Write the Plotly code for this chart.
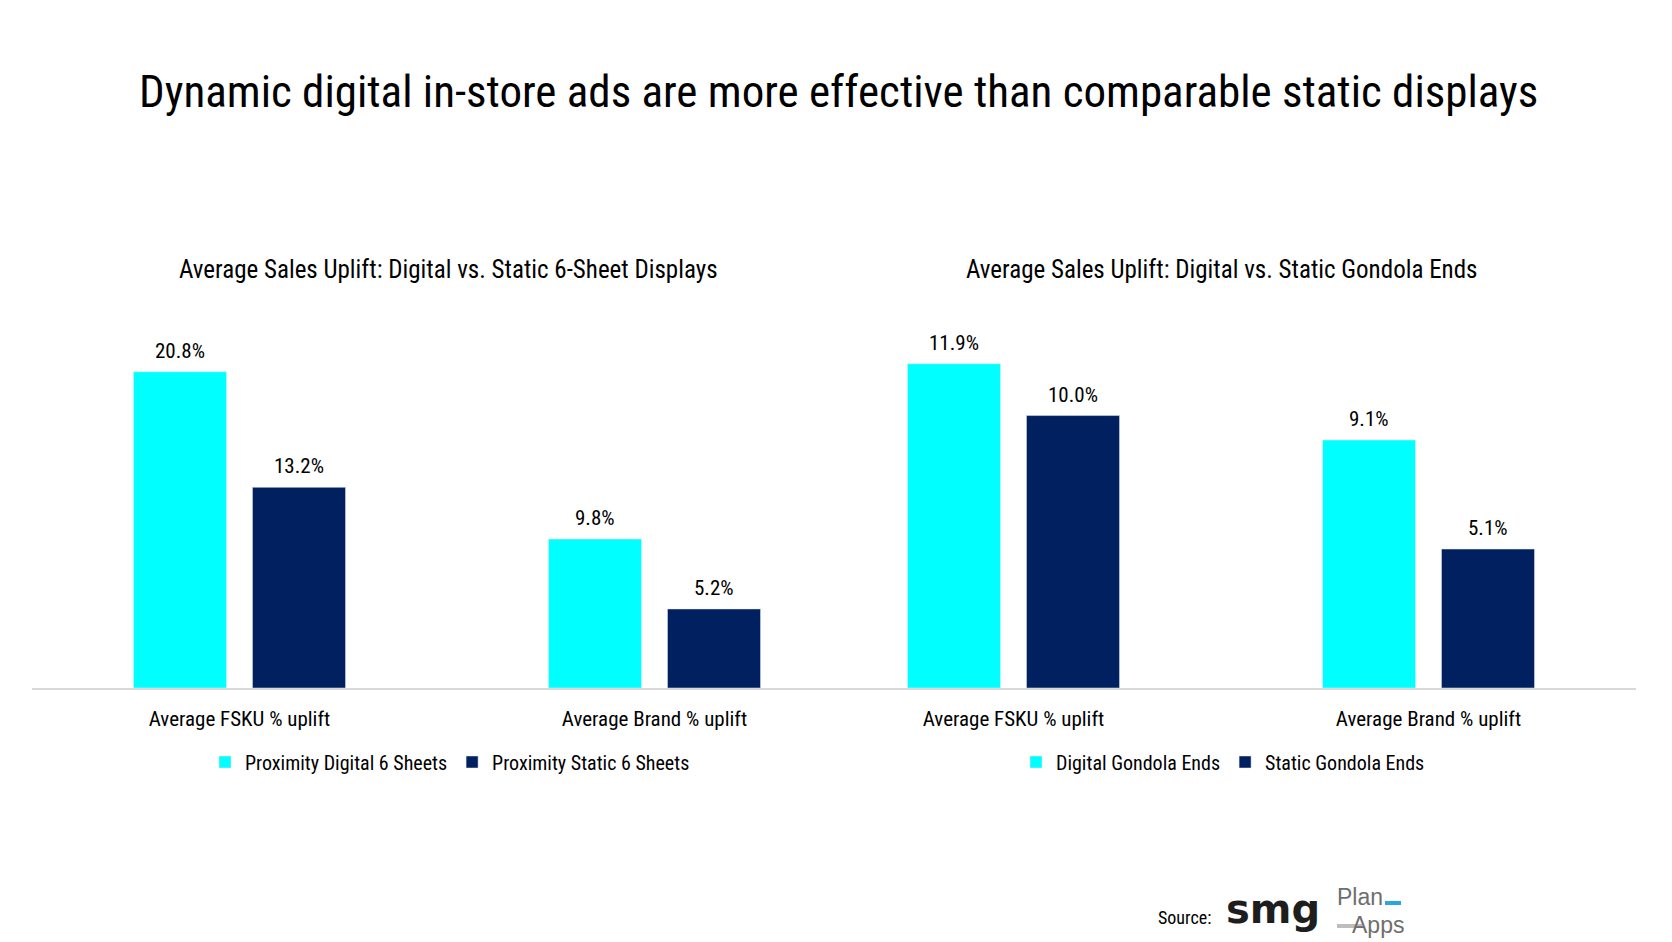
import plotly.graph_objects as go

# page is drawn with the browser's 8px body margin, so work in screen pixels
# and shift everything by OFF
W, H = 1672, 942
OFF = 8
FW, FH = W - OFF, H - OFF

categories = ['Average FSKU % uplift', 'Average Brand % uplift']

sheet_digital = [20.8, 9.8]
sheet_static = [13.2, 5.2]
gondola_digital = [11.9, 9.1]
gondola_static = [10.0, 5.1]

sheet_names = ['Proximity Digital 6 Sheets', 'Proximity Static 6 Sheets']
gondola_names = ['Digital Gondola Ends', 'Static Gondola Ends']

panel_titles = ['Average Sales Uplift: Digital vs. Static 6-Sheet Displays',
                'Average Sales Uplift: Digital vs. Static Gondola Ends']

main_title = 'Dynamic digital in-store ads are more effective than comparable static displays'

CYAN = '#00FFFF'
NAVY = '#012060'
FONT = 'Noto Sans ExtraCondensed, Noto Sans Condensed, Roboto Condensed, Roboto, sans-serif'


def px_x(x):
    return (x - OFF) / FW


def px_y(y):
    return 1 - (y - OFF) / FH


#------------------------------- panels -------------------------------#

BARGAP, GROUPGAP = 0.4265, 0.218
panels = [
    dict(x='x', y='y', dom=(32, 862), data=[sheet_digital, sheet_static], names=sheet_names, legend='legend'),
    dict(x='x2', y='y2', dom=(806, 1636), data=[gondola_digital, gondola_static], names=gondola_names, legend='legend2'),
]

fig = go.Figure()

for p in panels:
    cat_w = (p['dom'][1] - p['dom'][0]) / len(categories)
    slot = cat_w * (1 - BARGAP) / 2
    for k, (vals, name, color) in enumerate(zip(p['data'], p['names'], [CYAN, NAVY])):
        fig.add_trace(go.Bar(
            x=categories, y=vals, name=name, marker_color=color,
            xaxis=p['x'], yaxis=p['y'], legend=p['legend'],
            hovertemplate='%{x}<br>' + name + ': %{y:.1f}%<extra></extra>'
        ))
        # value labels above the bars
        for cat, v in zip(categories, vals):
            fig.add_annotation(
                x=cat, y=v, xref=p['x'], yref=p['y'],
                text=f'{v:.1f}%', showarrow=False,
                xanchor='center', yanchor='bottom',
                xshift=(k - 0.5) * slot, yshift=7,
                font=dict(size=21, color='black', family=FONT)
            )

#------------------------------- layout -------------------------------#

y_dom = [px_y(688), px_y(330)]
axis_x = dict(showline=True, linecolor='#D9D9D9', linewidth=1.5, showgrid=False,
              ticks='', ticklabelstandoff=11,
              tickfont=dict(size=21, color='black', family=FONT))
axis_y = dict(visible=False, showgrid=False, zeroline=False, domain=y_dom)

legend_style = dict(orientation='h', xanchor='center', yanchor='middle',
                    font=dict(size=20, color='black', family=FONT),
                    bgcolor='rgba(0,0,0,0)', traceorder='normal')

fig.update_layout(
    width=FW, height=FH,
    margin=dict(l=0, r=0, t=0, b=0),
    plot_bgcolor='white', paper_bgcolor='white',
    font=dict(family=FONT, color='black'),
    barmode='group', bargap=BARGAP, bargroupgap=GROUPGAP,
    xaxis=dict(axis_x, domain=[px_x(32), px_x(862)], anchor='y'),
    yaxis=dict(axis_y, range=[0, 23.55], anchor='x'),
    xaxis2=dict(axis_x, domain=[px_x(806), px_x(1636)], anchor='y2'),
    yaxis2=dict(axis_y, range=[0, 13.14], anchor='x2'),
    legend=dict(legend_style, x=px_x(450), y=px_y(762)),
    legend2=dict(legend_style, x=px_x(1223), y=px_y(762)),
    showlegend=True,
)

fig.add_annotation(text=main_title, xref='paper', yref='paper',
                   x=px_x(838), y=px_y(91), showarrow=False,
                   xanchor='center', yanchor='middle',
                   font=dict(size=45, color='black', family=FONT))

for title, cx in zip(panel_titles, [448, 1221]):
    fig.add_annotation(text=title, xref='paper', yref='paper',
                       x=px_x(cx), y=px_y(269), showarrow=False,
                       xanchor='center', yanchor='middle',
                       font=dict(size=25, color='black', family=FONT))

#------------------------------- source + logos -------------------------------#

fig.add_annotation(text='Source:', xref='paper', yref='paper',
                   x=px_x(1184), y=px_y(917), showarrow=False,
                   xanchor='center', yanchor='middle',
                   font=dict(size=18, color='black', family=FONT))
fig.add_annotation(text='<b>smg</b>', xref='paper', yref='paper',
                   x=px_x(1273), y=px_y(909), showarrow=False,
                   xanchor='center', yanchor='middle',
                   font=dict(size=40, color='#1E1E1E', family='DejaVu Sans'))
fig.add_annotation(text='Plan', xref='paper', yref='paper',
                   x=px_x(1336), y=px_y(897), showarrow=False,
                   xanchor='left', yanchor='middle', borderpad=0,
                   font=dict(size=23, color='#6E6E6E', family='Liberation Sans'))
fig.add_annotation(text='Apps', xref='paper', yref='paper',
                   x=px_x(1351), y=px_y(925), showarrow=False,
                   xanchor='left', yanchor='middle', borderpad=0,
                   font=dict(size=23, color='#6E6E6E', family='Liberation Sans'))
fig.add_shape(type='line', xref='paper', yref='paper',
              x0=px_x(1385), x1=px_x(1401), y0=px_y(903), y1=px_y(903),
              line=dict(color='#29A8E0', width=4))
fig.add_shape(type='line', xref='paper', yref='paper',
              x0=px_x(1337), x1=px_x(1362), y0=px_y(926), y1=px_y(926),
              line=dict(color='#BDBDBD', width=4))

fig.write_html('out.html')
